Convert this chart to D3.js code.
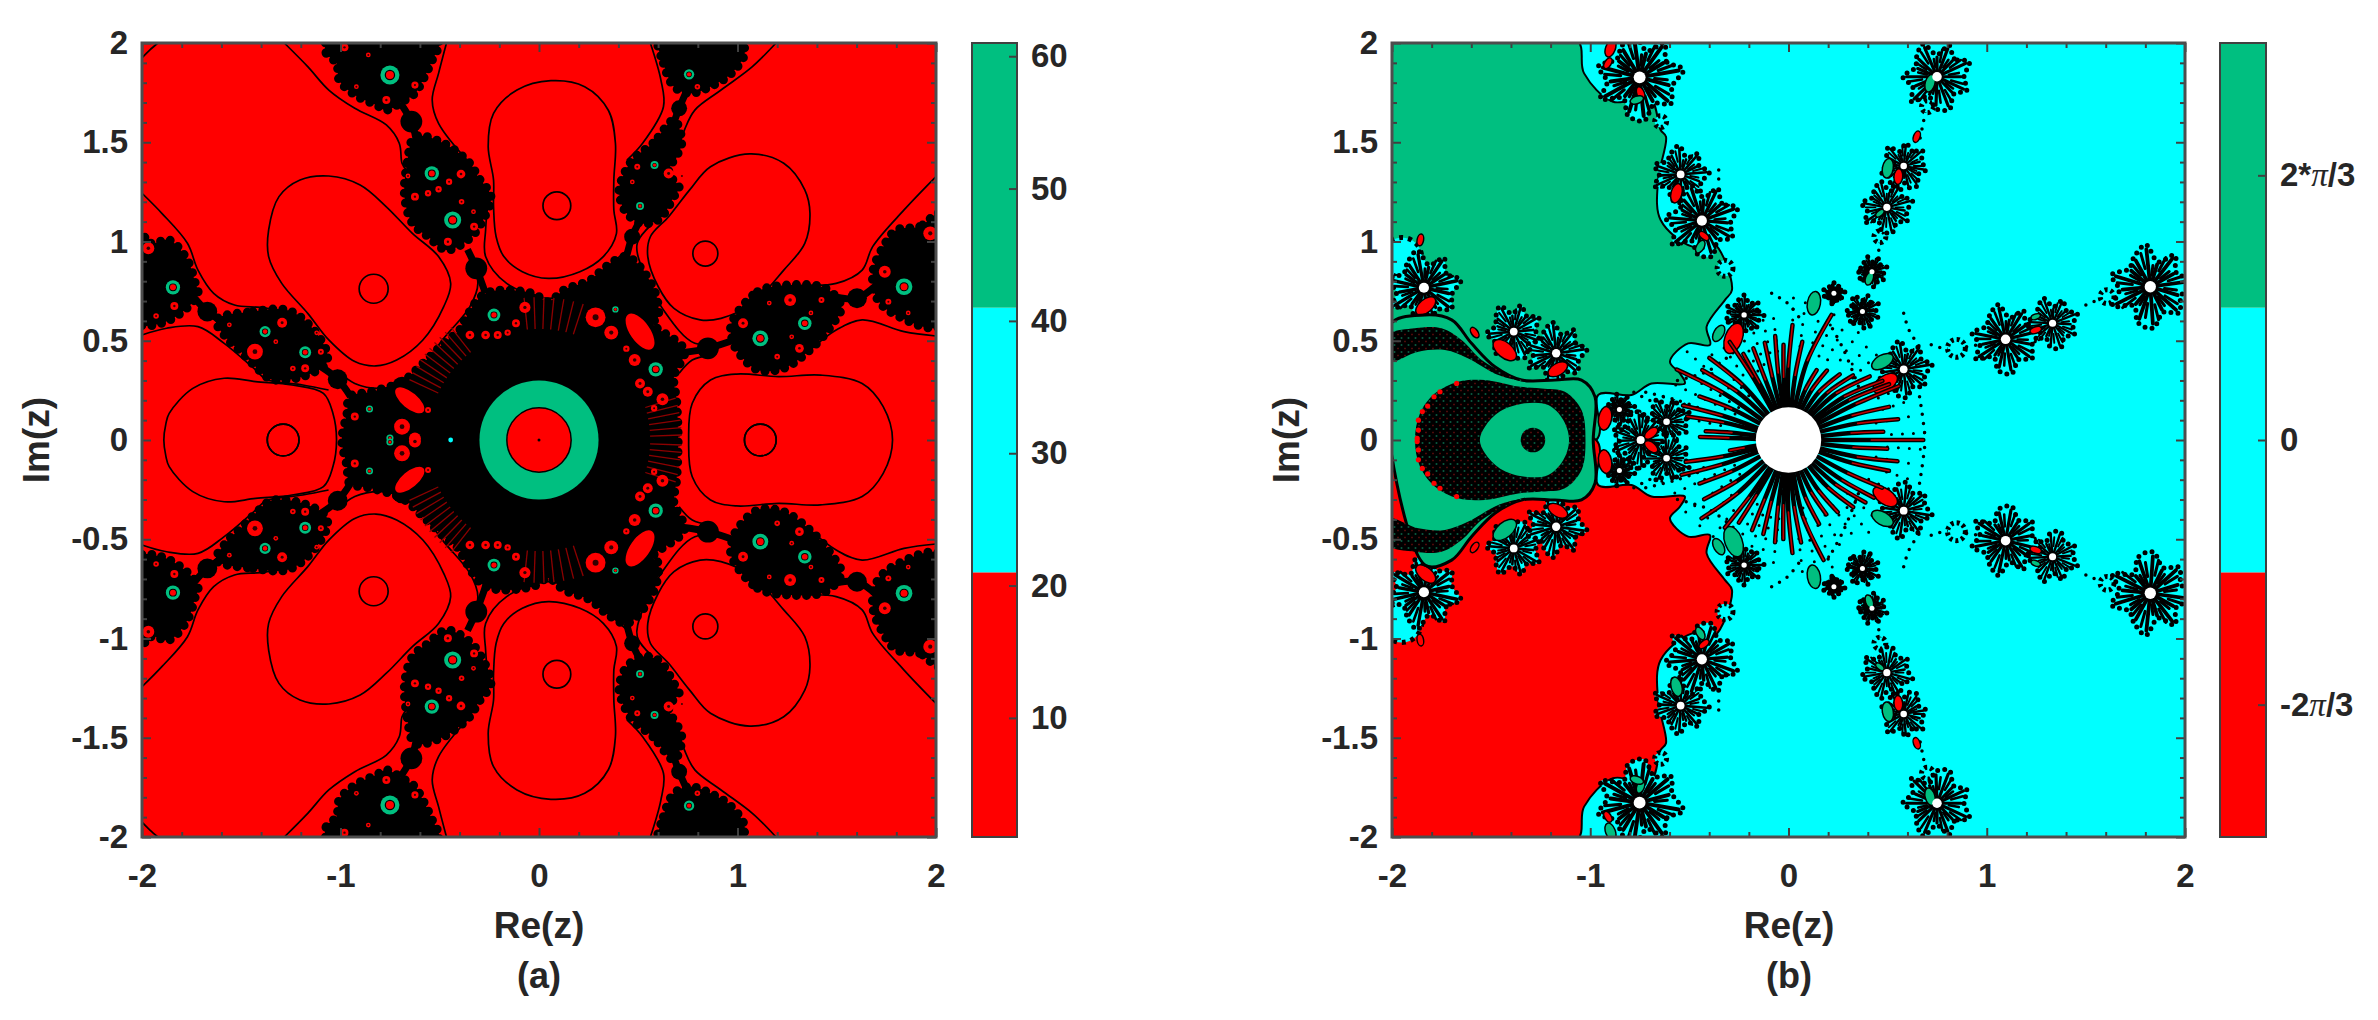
<!DOCTYPE html>
<html>
<head>
<meta charset="utf-8">
<script src="https://cdn.jsdelivr.net/npm/d3@7"></script>
<style>
html, body { margin: 0; background: #fff; }
text { font-family: "Liberation Sans", Arial, sans-serif; font-weight: bold; fill: #262626; }
</style>
</head>
<body>
<svg id="fig" width="2378" height="1020"></svg>
<script>
var RED = "#ff0000", CYAN = "#00ffff", GREEN = "#00bf80";

// axis values
var xMajor = [-2, -1, 0, 1, 2];
var xMinor = [-1.8, -1.6, -1.4, -1.2, -0.8, -0.6, -0.4, -0.2, 0.2, 0.4, 0.6, 0.8, 1.2, 1.4, 1.6, 1.8];
var yMajor = [-2, -1.5, -1, -0.5, 0, 0.5, 1, 1.5, 2];
var yMinor = [-1.9, -1.8, -1.7, -1.6, -1.4, -1.3, -1.2, -1.1, -0.9, -0.8, -0.7, -0.6, -0.4, -0.3, -0.2, -0.1,
    0.1, 0.2, 0.3, 0.4, 0.6, 0.7, 0.8, 0.9, 1.1, 1.2, 1.3, 1.4, 1.6, 1.7, 1.8, 1.9];
var iterEdges = [1, 21, 41, 61];
var iterTicks = [10, 20, 30, 40, 50, 60];
var phaseEdges = [-Math.PI, -Math.PI / 3, Math.PI / 3, Math.PI];
var phaseTicks = [-2 * Math.PI / 3, 0, 2 * Math.PI / 3];
var phaseLabels = [["-2", "\u03c0", "/3"], ["0"], ["2*", "\u03c0", "/3"]];

// panel (a): level curves, upper half plane, [Re, Im]; the lower half mirrors them
var levelCircles = [[0.09, 1.18, 0.07], [0.838, 0.939, 0.063], [-0.833, 0.762, 0.073], [-1.289, 0, 0.08], [1.115, 0, 0.08]];
var lobeTop = [[0.06,1.81],[0.23,1.78],[0.35,1.66],[0.385,1.495],[0.377,1.31],[0.377,1.159],[0.39,1.04],[0.324,0.924],[0.206,0.848],[0.047,0.814],[-0.084,0.848],[-0.177,0.924],[-0.216,1.024],[-0.229,1.176],[-0.229,1.31],[-0.256,1.478],[-0.229,1.646],[-0.111,1.763]];
var lobeUpperRight = [[1.062,1.441],[1.233,1.394],[1.339,1.26],[1.365,1.142],[1.339,0.991],[1.233,0.856],[1.075,0.688],[0.917,0.613],[0.812,0.605],[0.68,0.663],[0.601,0.772],[0.548,0.924],[0.561,1.024],[0.653,1.125],[0.759,1.26],[0.864,1.377]];
var lobeUpperLeft = [[-1.059,1.33],[-0.901,1.285],[-0.769,1.175],[-0.638,1.041],[-0.506,0.924],[-0.445,0.789],[-0.48,0.672],[-0.585,0.504],[-0.717,0.403],[-0.822,0.373],[-0.928,0.395],[-1.059,0.504],[-1.165,0.638],[-1.296,0.789],[-1.362,0.924],[-1.362,1.058],[-1.31,1.226],[-1.204,1.31]];
var lobeLeftHalf = [[-1.89,0],[-1.88,0.08],[-1.863,0.134],[-1.744,0.26],[-1.586,0.311],[-1.428,0.294],[-1.244,0.277],[-1.086,0.235],[-1.038,0.134],[-1.02,0]];
var lobeRightHalf = [[0.754,0],[0.772,0.185],[0.864,0.302],[0.996,0.332],[1.207,0.319],[1.418,0.327],[1.628,0.285],[1.734,0.168],[1.781,0]];
var outerCurves = [
    [[-2,1.925],[-1.96,1.965],[-1.92,2]],
    [[-1.283,2],[-1.165,1.881],[-1.059,1.763],[-0.928,1.671],[-0.769,1.587],[-0.704,1.495],[-0.69,1.394],[-0.669,1.36]],
    [[-2,1.243],[-1.9,1.142],[-1.771,0.991],[-1.718,0.856],[-1.639,0.739],[-1.534,0.68],[-1.402,0.668],[-1.27,0.646]],
    [[-0.361,0.957],[-0.308,0.789],[-0.348,0.672],[-0.48,0.512],[-0.585,0.369],[-0.638,0.302],[-0.796,0.26],[-0.928,0.285],[-1.02,0.353]],
    [[-0.466,2],[-0.506,1.847],[-0.538,1.713],[-0.506,1.595],[-0.348,1.394]],
    [[0.561,2],[0.614,1.814],[0.627,1.679],[0.522,1.495],[0.443,1.41]],
    [[-0.256,1.209],[-0.269,1.058],[-0.269,0.924],[-0.163,0.789],[0.047,0.714],[0.153,0.739],[0.285,0.823],[0.443,0.957]],
    [[1.194,2],[1.075,1.881],[0.917,1.763],[0.785,1.662],[0.733,1.562],[0.68,1.394]],
    [[2,1.327],[1.839,1.159],[1.681,0.974],[1.628,0.856],[1.497,0.789],[1.339,0.781]],
    [[0.574,1.091],[0.495,0.991],[0.522,0.856],[0.627,0.655],[0.785,0.487],[0.943,0.495]],
    [[2,0.524],[1.839,0.546],[1.628,0.605],[1.497,0.554],[1.365,0.453]],
    [[-2,0.529],[-1.876,0.563],[-1.718,0.571],[-1.586,0.487],[-1.428,0.353],[-1.375,0.306],[-1.19,0.277],[-1.06,0.252]],
    [[0.706,0.336],[0.772,0.403],[0.864,0.428]]
];

// panel (a): black filaments
var blobTL = [[-1.065,2.02],[-1.072,1.948],[-1.02,1.898],[-1.007,1.814],[-0.928,1.738],[-0.822,1.688],[-0.769,1.662],[-0.69,1.704],[-0.625,1.746],[-0.585,1.814],[-0.545,1.898],[-0.506,2.02]];
var blobTL2 = [[-0.625,1.528],[-0.664,1.394],[-0.677,1.226],[-0.638,1.092],[-0.559,1.024],[-0.466,0.957],[-0.348,1.016],[-0.282,1.108],[-0.242,1.226],[-0.308,1.327],[-0.348,1.394],[-0.48,1.495]];
var blobTR = [[0.606,2.02],[0.627,1.898],[0.68,1.78],[0.759,1.746],[0.864,1.78],[0.97,1.847],[1.036,1.948],[1.009,2.02]];
var blobTR2 = [[0.68,1.612],[0.574,1.495],[0.469,1.41],[0.416,1.31],[0.403,1.26],[0.43,1.159],[0.509,1.092],[0.601,1.108],[0.68,1.226],[0.706,1.276],[0.653,1.343],[0.719,1.495]];
var blobL1 = [[-2.02,1.058],[-1.955,0.991],[-1.863,1.008],[-1.771,0.907],[-1.731,0.789],[-1.718,0.739],[-1.784,0.655],[-1.902,0.588],[-2.02,0.588]];
var blobL2 = [[-1.626,0.605],[-1.441,0.647],[-1.27,0.655],[-1.165,0.588],[-1.072,0.453],[-1.072,0.386],[-1.191,0.319],[-1.349,0.306],[-1.428,0.369],[-1.494,0.437],[-1.573,0.512]];
var blobR1 = [[2.02,1.142],[1.918,1.075],[1.8,1.058],[1.734,0.974],[1.681,0.84],[1.707,0.705],[1.813,0.621],[2.02,0.574]];
var blobR2 = [[0.97,0.588],[1.101,0.747],[1.26,0.781],[1.444,0.764],[1.523,0.672],[1.47,0.571],[1.365,0.453],[1.233,0.361],[1.101,0.353],[0.996,0.453],[0.97,0.521]];
var blobCentreHalf = [[-0.993,0],[-0.967,0.134],[-0.954,0.218],[-0.848,0.243],[-0.69,0.294],[-0.585,0.386],[-0.48,0.487],[-0.4,0.554],[-0.374,0.605],[-0.269,0.739],[-0.032,0.739],[0.047,0.697],[0.126,0.756],[0.258,0.806],[0.337,0.873],[0.443,0.924],[0.574,0.772],[0.601,0.621],[0.574,0.588],[0.733,0.453],[0.68,0.319],[0.693,0.202],[0.701,0]];
var beads = [[-0.643,1.604,0.055],[-0.316,0.865,0.055],[0.706,1.671,0.04],[0.469,1.024,0.04],[-1.671,0.647,0.05],[-1.014,0.306,0.05],[-0.69,0.269,0.05],[1.602,0.714,0.05],[0.851,0.462,0.055]];
var necks = [
    [[-0.7,1.7],[-0.643,1.604],[-0.62,1.52]], [[-0.36,0.96],[-0.316,0.865],[-0.27,0.74]],
    [[0.74,1.75],[0.706,1.671],[0.68,1.6]], [[0.5,1.09],[0.469,1.024],[0.44,0.92]],
    [[-1.74,0.72],[-1.671,0.647],[-1.6,0.6]], [[-1.1,0.37],[-1.014,0.306],[-0.95,0.22]],
    [[1.7,0.78],[1.602,0.714],[1.5,0.72]], [[1.0,0.51],[0.851,0.462],[0.72,0.44]]
];
// green rings: Re, Im, outer radius
var ringSpots = [[-0.751,1.839,0.048],[0.756,1.842,0.026],[-0.54,1.343,0.036],[-0.435,1.108,0.043],[0.582,1.385,0.02],[0.509,1.179,0.02],[-1.844,0.769,0.036],[-1.38,0.546,0.028],[-1.178,0.442,0.03],[-0.227,0.63,0.032],[0.385,0.658,0.016],[0.588,0.356,0.036],[1.839,0.772,0.042],[1.339,0.588,0.034],[1.115,0.512,0.04],[-0.854,0.156,0.018],[-0.751,0.01,0.018]];
// red holes inside the filaments: Re, Im, radius
var redHoles = [[-0.348,0.529,0.022],[-0.269,0.529,0.022],[-0.208,0.529,0.02],[-0.158,0.541,0.016],[-0.116,0.588,0.02],[-0.071,0.668,0.028],[0.285,0.618,0.05],[0.364,0.541,0.035],[0.482,0.403,0.03],[0.509,0.285,0.025],[0.548,0.243,0.025],[0.622,0.205,0.03],[-0.69,0.067,0.04],[-0.625,0.008,0.03],[-0.928,0.118,0.02],[-0.559,0.151,0.015],
    [-0.625,1.226,0.02],[-0.559,1.243,0.016],[-0.506,1.263,0.016],[-0.453,1.301,0.016],[-0.393,1.34,0.022],[-0.327,1.075,0.02],[-0.459,0.999,0.02],[-0.769,1.713,0.02],[-0.625,1.788,0.018],[-0.98,1.978,0.02],
    [-1.837,0.675,0.02],[-1.929,0.625,0.014],[-1.968,0.966,0.03],[-1.431,0.445,0.04],[-1.294,0.591,0.025],[-1.326,0.495,0.012],[-1.178,0.361,0.02],[-1.099,0.445,0.015],
    [1.742,0.848,0.03],[1.76,0.697,0.015],[1.971,1.041,0.035],[1.265,0.705,0.03],[1.423,0.705,0.015],[1.028,0.588,0.025],[1.312,0.462,0.022],[1.273,0.52,0.012],[0.653,1.343,0.025],[0.495,1.377,0.015],[0.798,1.78,0.014],
    [-0.66,1.33,0.012],[-0.39,1.2,0.014],[-0.33,1.15,0.012],[-0.86,1.94,0.012],[-0.92,1.78,0.012],[0.72,1.33,0.01],[0.47,1.3,0.012],[1.86,0.64,0.012],[1.16,0.69,0.012],[1.2,0.42,0.014],[1.37,0.64,0.012],[-1.56,0.58,0.012],[-1.24,0.36,0.014],[-1.12,0.54,0.012],[0.44,0.46,0.016],[0.58,0.16,0.016]];
// long red patches in the central mass: Re, Im, half length, half width, tilt in degrees
var redLongPatches = [[0.509,0.546,0.105,0.05,-55],[-0.651,0.2,0.09,0.04,-40]];
var fanAngles = [2, 5, 8, 11, 14, 17, 72, 76, 80, 84, 88, 92, 96, 128, 131, 134, 137, 140, 143, 146, 149, 152, 155];
var mainRing = [0, 0.3, 0.162];
var cyanSpecks = [[-0.445, 0, 0.012]];

// panel (b): basin boundary, upper half plane; the lower half mirrors it in red
var basinEdge = [[-2.02,2.02],[-1.071,2.02],[-1.031,1.847],[-0.885,1.704],[-0.698,1.721],[-0.645,1.562],[-0.618,1.528],[-0.658,1.31],[-0.645,1.108],[-0.485,0.974],[-0.378,0.991],[-0.285,0.756],[-0.321,0.705],[-0.413,0.571],[-0.396,0.479],[-0.506,0.487],[-0.598,0.395],[-0.548,0.336],[-0.523,0.285],[-0.691,0.285],[-0.792,0.227],[-0.96,0.227],[-0.97,0],[-2.02,0]];
var bulbHalf = [[-2.02,0.571],[-1.834,0.63],[-1.699,0.605],[-1.599,0.487],[-1.481,0.369],[-1.346,0.302],[-1.178,0.302],[-1.044,0.302],[-0.976,0.218],[-0.985,0]];
var bulbBand = [[-2.02,0.529],[-1.885,0.563],[-1.75,0.563],[-1.649,0.504],[-1.548,0.403],[-1.431,0.336],[-1.33,0.294],[-1.464,0.327],[-1.615,0.411],[-1.733,0.453],[-1.867,0.445],[-2.02,0.395]];
var ovalHalf = [[-1.884,0],[-1.859,0.134],[-1.783,0.235],[-1.666,0.294],[-1.531,0.302],[-1.363,0.269],[-1.245,0.26],[-1.128,0.243],[-1.044,0.151],[-1.024,0]];
var ovalHoleHalf = [[-1.557,0],[-1.531,0.067],[-1.456,0.143],[-1.329,0.185],[-1.212,0.176],[-1.136,0.101],[-1.107,0]];
var ovalCore = [-1.289, 0, 0.062];
var ovalTeeth = [[-1.873,0.008],[-1.867,0.05],[-1.867,0.1],[-1.847,0.143],[-1.82,0.171],[-1.788,0.218],[-1.758,0.243],[-1.674,0.285]];
// flowers: Re, Im, radius, rotation in degrees
var flowers = [[-0.751,1.827,0.2,10],[0.749,1.83,0.16,25],[-0.544,1.338,0.13,5],[-0.437,1.105,0.17,20],[0.581,1.38,0.11,40],[0.496,1.172,0.12,15],[-1.839,0.767,0.17,12],[-1.386,0.546,0.13,30],[-1.172,0.437,0.14,8],[-0.224,0.63,0.09,0],[0.421,0.848,0.07,18],[0.229,0.739,0.05,5],[0.373,0.647,0.08,28],[0.581,0.356,0.13,10],[1.825,0.772,0.19,8],[1.332,0.588,0.12,22],[1.095,0.507,0.16,14],[-0.853,0.154,0.07,12],[-0.746,0,0.13,0],[-0.615,0.092,0.11,24]];
var sideClumps = [[-1.95,0.92,0.1]];
var petalAngles = [0, 21, 44, 65, 88, 111, 132, 155, 178, 199, 222, 243, 266, 289, 310, 335];
var petalLens = [1, 0.7, 0.95, 0.62, 1, 0.8, 0.66, 0.96, 0.74, 1, 0.6, 0.9, 0.98, 0.68, 0.92, 0.76];
var miniBlobs = [[0.701,1.679,0.03],[0.461,1.024,0.03],[0.847,0.462,0.045],[1.607,0.722,0.035],[-0.32,0.865,0.04],[-0.645,1.604,0.03]];
// patches: Re, Im, half length, kind above the axis, kind below the axis, tilt in degrees
var patches = [[-0.898,1.973,0.045,"r","g",70],[-0.911,1.898,0.03,"r","r",60],[-0.746,1.746,0.035,"r","g",110],[-0.565,1.243,0.05,"r","g",75],[-0.426,1.028,0.03,"r","r",-40],[-1.83,0.675,0.06,"r","r",40],[-1.857,1.008,0.03,"r","r",80],[-1.431,0.453,0.07,"r","g",-40],[-1.164,0.356,0.055,"r","r",30],[-1.583,0.541,0.03,"r","r",-55],[-0.925,0.109,0.06,"r","r",80],[-0.693,-0.034,0.04,"r","r",-40],[-0.277,0.512,0.08,"r","g",70],[0.488,0.285,0.07,"r","r",35],[1.247,0.554,0.03,"r","r",20],[0.647,1.528,0.03,"r","r",70],[0.554,1.327,0.04,"r","r",85],
    [0.501,1.369,0.05,"g","g",80],[-0.765,1.713,0.035,"g","g",20],[-0.352,0.537,0.045,"g","g",60],[0.474,0.395,0.06,"g","g",30],[0.128,0.689,0.06,"g","g",80],[1.247,0.621,0.025,"g","g",20],[0.408,0.814,0.035,"g","g",70],[-0.445,0.974,0.035,"g","g",60],[0.714,1.797,0.045,"g","g",75],[0.461,1.142,0.025,"g","g",40]];
// stripes round the white disc: angle in degrees, outer radius, bend of the tip in degrees
var stripes = [[0,0.68,0],[7,0.48,-2],[14.7,0.563,-4],[22.2,0.534,-4],[29,0.62,-3],[35,0.58,-6],[40.2,0.56,-8],[47,0.52,-9],[53,0.46,-8],[60,0.42,-8],[67,0.4,-6],[73,0.38,-5],[79,0.667,-8],[85,0.5,-3],[91,0.58,-3],[95,0.48,-2],[99.3,0.528,-2],[104.7,0.504,-1],[111,0.495,0],[116.7,0.49,1],[119,0.576,2],[128,0.575,6],[135,0.56,6],[142.8,0.666,5],[150,0.5,4],[158.9,0.56,3],[164,0.525,3],[172,0.42,2],[178,0.447,0],
    [-7,0.5,2],[-15,0.56,4],[-21,0.53,4],[-30,0.53,3],[-38,0.52,4],[-45,0.5,6],[-52,0.47,6],[-60.7,0.44,5],[-68,0.42,5],[-75,0.45,5],[-81.7,0.63,8],[-86,0.52,3],[-91,0.57,3],[-95,0.5,2],[-99.5,0.52,2],[-106,0.49,1],[-112,0.49,0],[-120,0.486,-1],[-124,0.546,-2],[-132,0.59,-6],[-140,0.52,-5],[-150,0.5,-4],[-159,0.568,-3],[-165,0.53,-3],[-170,0.3,0]];
var whiteDisc = [0, 0, 0.165];
// dotted rays between the stripes: angle, inner radius, outer radius
var dottedRays = [[3,0.52,0.7],[11,0.45,0.66],[18,0.5,0.66],[25,0.5,0.7],[32,0.55,0.72],[44,0.45,0.62],[50,0.5,0.65],[57,0.48,0.68],[64,0.45,0.66],[70,0.45,0.7],[76,0.45,0.62],[83,0.42,0.7],[88,0.55,0.72],[97,0.45,0.62],[102,0.45,0.66],[108,0.4,0.62],[114,0.38,0.6],[125,0.4,0.66],[132,0.3,0.6],[139,0.4,0.72],[147,0.3,0.62],[154,0.3,0.66],[161,0.5,0.72],[168,0.35,0.62],[-4,0.5,0.68],[-11,0.45,0.65],[-18,0.52,0.66],[-26,0.45,0.68],[-34,0.5,0.7],[-42,0.4,0.62],[-49,0.45,0.62],[-56,0.4,0.6],[-64,0.42,0.64],[-71,0.4,0.68],[-78,0.35,0.7],[-84,0.5,0.72],[-97,0.4,0.66],[-103,0.4,0.62],[-109,0.4,0.6],[-116,0.36,0.62],[-128,0.45,0.66],[-136,0.4,0.66],[-145,0.3,0.66],[-155,0.3,0.68],[-162,0.45,0.72]];
var dottedTrails = [
    [[-0.085,0.739],[-0.005,0.689],[0.075,0.588]], [[0.581,0.638],[0.608,0.554],[0.661,0.47]],
    [[0.661,0.218],[0.674,0.134],[0.687,0.034]], [[-0.352,1.36],[-0.352,1.31]],
    [[-0.56,0.3],[-0.4,0.35],[-0.28,0.44]], [[0.2,0.6],[0.28,0.45],[0.36,0.25]],
    [[-0.78,0.24],[-0.66,0.18],[-0.5,0.12]], [[-0.72,-0.24],[-0.56,-0.2],[-0.4,-0.14]],
    [[0.72,0.48],[0.8,0.46],[0.96,0.48]], [[1.5,0.68],[1.6,0.72],[1.72,0.74]],
    [[0.46,1.09],[0.46,0.98],[0.44,0.9]], [[0.7,1.7],[0.68,1.6],[0.66,1.5]]
];

var svg = d3.select("#fig");
var defs = svg.append("defs");
defs.append("filter").attr("id", "soft").append("feGaussianBlur").attr("stdDeviation", 0.55);
var stipple = defs.append("pattern").attr("id", "stipple").attr("width", 7).attr("height", 7)
    .attr("patternUnits", "userSpaceOnUse");
stipple.append("rect").attr("width", 7).attr("height", 7).attr("fill", "#000");
stipple.append("circle").attr("cx", 1.5).attr("cy", 2).attr("r", 1).attr("fill", "#0a5a3e");
stipple.append("circle").attr("cx", 5).attr("cy", 5.5).attr("r", 0.9).attr("fill", "#5a0a10");

var plotTop = 43, plotBottom = 837;
var y = d3.scaleLinear().domain([-2, 2]).range([plotBottom, plotTop]);

function mirror(pts) { return pts.map(function(p) { return [p[0], -p[1]]; }); }
function wholeShape(half) { return half.concat(mirror(half).reverse().slice(1, -1)); }

// plot area, returns the clipped group and the x scale
function makePlot(id, left, right) {
    var x = d3.scaleLinear().domain([-2, 2]).range([left, right]);
    defs.append("clipPath").attr("id", id).append("rect")
        .attr("x", left).attr("y", plotTop).attr("width", right - left).attr("height", plotBottom - plotTop);
    var g = svg.append("g").attr("clip-path", "url(#" + id + ")")
        .append("g").attr("filter", "url(#soft)");
    return {g: g, x: x, left: left, right: right};
}

function closed(x) {
    return d3.line().x(function(d) { return x(d[0]); }).y(function(d) { return y(d[1]); }).curve(d3.curveCatmullRomClosed);
}
function open(x) {
    return d3.line().x(function(d) { return x(d[0]); }).y(function(d) { return y(d[1]); }).curve(d3.curveCatmullRom);
}
function rad(x, r) { return x(r) - x(0); }

// frame, ticks and labels of one plot
function drawAxes(p, xLabel, tag, centre, yLabelX) {
    var x = p.x;
    function fmt(d) { return String(d); }
    [[d3.axisBottom(x), plotBottom, xMajor, xMinor, 26.5], [d3.axisTop(x), plotTop, xMajor, xMinor, 0]].forEach(function(a, i) {
        var major = svg.append("g").attr("transform", "translate(0," + a[1] + ")")
            .call(a[0].tickValues(a[2]).tickSize(-9).tickPadding(a[4]).tickFormat(i ? "" : fmt));
        var minor = svg.append("g").attr("transform", "translate(0," + a[1] + ")")
            .call(a[0].tickValues(a[3]).tickSize(-5).tickFormat(""));
        major.selectAll(".domain").remove();
        minor.selectAll(".domain").remove();
        major.attr("font-size", 33).attr("font-family", null);
        major.selectAll("line").attr("stroke", "#404040").attr("stroke-width", 2);
        minor.selectAll("line").attr("stroke", "#404040").attr("stroke-width", 2);
    });
    [[d3.axisLeft(y), p.left], [d3.axisRight(y), p.right]].forEach(function(a, i) {
        var major = svg.append("g").attr("transform", "translate(" + a[1] + ",0)")
            .call(a[0].tickValues(yMajor).tickSize(-9).tickPadding(14).tickFormat(i ? "" : fmt));
        var minor = svg.append("g").attr("transform", "translate(" + a[1] + ",0)")
            .call(a[0].tickValues(yMinor).tickSize(-5).tickFormat(""));
        major.selectAll(".domain").remove();
        minor.selectAll(".domain").remove();
        major.attr("font-size", 33).attr("font-family", null);
        major.selectAll("line").attr("stroke", "#404040").attr("stroke-width", 2);
        minor.selectAll("line").attr("stroke", "#404040").attr("stroke-width", 2);
    });
    svg.append("rect").attr("x", p.left).attr("y", plotTop)
        .attr("width", p.right - p.left).attr("height", plotBottom - plotTop)
        .attr("fill", "none").attr("stroke", "#4d4d4d").attr("stroke-width", 3);
    svg.append("text").attr("x", centre).attr("y", 938).attr("text-anchor", "middle").attr("font-size", 37).text(xLabel);
    svg.append("text").attr("x", centre).attr("y", 988).attr("text-anchor", "middle").attr("font-size", 36).text(tag);
    svg.append("text").attr("transform", "translate(" + yLabelX + ",440) rotate(-90)")
        .attr("text-anchor", "middle").attr("font-size", 37).text("Im(z)");
}

// colour bar with one band per pair of edges
function drawBar(left, right, edges, ticks) {
    var c = d3.scaleLinear().domain([edges[0], edges[3]]).range([plotBottom, plotTop]);
    var colours = [RED, CYAN, GREEN];
    svg.selectAll(null).data(colours).enter().append("rect")
        .attr("x", left).attr("width", right - left)
        .attr("y", function(d, i) { return c(edges[i + 1]); })
        .attr("height", function(d, i) { return c(edges[i]) - c(edges[i + 1]); })
        .attr("fill", function(d) { return d; });
    svg.append("rect").attr("x", left).attr("y", plotTop).attr("width", right - left)
        .attr("height", plotBottom - plotTop).attr("fill", "none").attr("stroke", "#404040").attr("stroke-width", 2);
    var ax = svg.append("g").attr("transform", "translate(" + right + ",0)")
        .call(d3.axisRight(c).tickValues(ticks).tickSize(-8).tickPadding(14).tickFormat(function(d) { return String(d); }));
    ax.select(".domain").remove();
    ax.attr("font-size", 33).attr("font-family", null);
    ax.selectAll("line").attr("stroke", "#404040").attr("stroke-width", 2);
    return ax;
}

// ---------- panel (a) ----------
var pa = makePlot("clipA", 142, 936);
var xa = pa.x, ga = pa.g;
ga.append("rect").attr("x", 142).attr("y", plotTop).attr("width", 794).attr("height", 794).attr("fill", RED);

var contourGroup = ga.append("g").attr("fill", "none").attr("stroke", "#000").attr("stroke-width", 1.7);
[lobeTop, lobeUpperRight, lobeUpperLeft].forEach(function(s) {
    [s, mirror(s)].forEach(function(pts) { contourGroup.append("path").attr("d", closed(xa)(pts)); });
});
[lobeLeftHalf, lobeRightHalf].forEach(function(s) {
    contourGroup.append("path").attr("d", closed(xa)(wholeShape(s)));
});
outerCurves.forEach(function(s) {
    [s, mirror(s)].forEach(function(pts) { contourGroup.append("path").attr("d", open(xa)(pts)); });
});
contourGroup.selectAll("circle.level").data(levelCircles.concat(levelCircles.map(function(c) { return [c[0], -c[1], c[2]]; })))
    .enter().append("circle").attr("class", "level")
    .attr("cx", function(d) { return xa(d[0]); }).attr("cy", function(d) { return y(d[1]); })
    .attr("r", function(d) { return rad(xa, d[2]); });

var filaments = ga.append("g").attr("fill", "#000");
var bumpy = function(sel) {
    sel.attr("stroke", "#000").attr("stroke-width", 9).attr("stroke-linecap", "round").attr("stroke-dasharray", "0 10");
};
[blobTL, blobTL2, blobTR, blobTR2, blobL1, blobL2, blobR1, blobR2].forEach(function(s) {
    [s, mirror(s)].forEach(function(pts) { filaments.append("path").attr("d", closed(xa)(pts)).call(bumpy); });
});
filaments.append("path").attr("d", closed(xa)(wholeShape(blobCentreHalf))).call(bumpy);
necks.forEach(function(s) {
    [s, mirror(s)].forEach(function(pts) {
        filaments.append("path").attr("d", open(xa)(pts)).attr("fill", "none")
            .attr("stroke", "#000").attr("stroke-width", 7);
    });
});
beads.concat(beads.map(function(b) { return [b[0], -b[1], b[2]]; })).forEach(function(b) {
    filaments.append("circle").attr("cx", xa(b[0])).attr("cy", y(b[1])).attr("r", rad(xa, b[2]));
});

// radial fans inside the central black mass
[1, -1].forEach(function(sign) {
    ga.append("g").selectAll("line").data(fanAngles).enter().append("line")
        .attr("stroke", "#8c0000").attr("stroke-width", 1.3)
        .attr("x1", function(d) { return xa(0.56 * Math.cos(d * Math.PI / 180)); })
        .attr("y1", function(d) { return y(sign * 0.56 * Math.sin(d * Math.PI / 180)); })
        .attr("x2", function(d) { return xa(0.72 * Math.cos(d * Math.PI / 180)); })
        .attr("y2", function(d) { return y(sign * 0.72 * Math.sin(d * Math.PI / 180)); });
});

[1, -1].forEach(function(sign) {
    redLongPatches.forEach(function(h) {
        ga.append("ellipse").attr("rx", rad(xa, h[2])).attr("ry", rad(xa, h[3])).attr("fill", RED)
            .attr("transform", "translate(" + xa(h[0]) + "," + y(sign * h[1]) + ") rotate(" + (-sign * h[4]) + ")");
    });
    redHoles.forEach(function(h) {
        var cx = xa(h[0]), cy = y(sign * h[1]), r = rad(xa, h[2]);
        ga.append("circle").attr("cx", cx).attr("cy", cy).attr("r", r).attr("fill", RED);
        ga.append("circle").attr("cx", cx).attr("cy", cy).attr("r", Math.max(1, r * 0.3)).attr("fill", "#300");
    });
    ringSpots.forEach(function(h) {
        var cx = xa(h[0]), cy = y(sign * h[1]), r = rad(xa, h[2]);
        ga.append("circle").attr("cx", cx).attr("cy", cy).attr("r", r).attr("fill", GREEN);
        ga.append("circle").attr("cx", cx).attr("cy", cy).attr("r", r * 0.55).attr("fill", "#000");
        ga.append("circle").attr("cx", cx).attr("cy", cy).attr("r", r * 0.42).attr("fill", RED);
    });
});

ga.append("circle").attr("cx", xa(0)).attr("cy", y(0)).attr("r", rad(xa, mainRing[1])).attr("fill", GREEN);
ga.append("circle").attr("cx", xa(0)).attr("cy", y(0)).attr("r", rad(xa, mainRing[2])).attr("fill", RED)
    .attr("stroke", "#000").attr("stroke-width", 1.5);
ga.append("circle").attr("cx", xa(0)).attr("cy", y(0)).attr("r", 1.5).attr("fill", "#000");
cyanSpecks.forEach(function(s) {
    ga.append("circle").attr("cx", xa(s[0])).attr("cy", y(s[1])).attr("r", rad(xa, s[2])).attr("fill", CYAN);
});

drawAxes(pa, "Re(z)", "(a)", 539, 49);
drawBar(972, 1017, iterEdges, iterTicks);

// ---------- panel (b) ----------
var pb = makePlot("clipB", 1392, 2185);
var xb = pb.x, gb = pb.g;
gb.append("rect").attr("x", 1392).attr("y", plotTop).attr("width", 793).attr("height", 794).attr("fill", CYAN);

var edgeLine = d3.line().x(function(d) { return xb(d[0]); }).y(function(d) { return y(d[1]); }).curve(d3.curveCatmullRom);
gb.append("path").attr("d", edgeLine(basinEdge)).attr("fill", GREEN).attr("stroke", "#000").attr("stroke-width", 2);
gb.append("path").attr("d", edgeLine(mirror(basinEdge))).attr("fill", RED).attr("stroke", "#000").attr("stroke-width", 2);

function rayPoint(ang, r) {
    var a = ang * Math.PI / 180;
    return [r * Math.cos(a), r * Math.sin(a)];
}

// dotted trails and small clusters between the flowers
dottedTrails.forEach(function(s) {
    [s, mirror(s)].forEach(function(pts) {
        gb.append("path").attr("d", open(xb)(pts)).attr("fill", "none").attr("stroke", "#000")
            .attr("stroke-width", 3.5).attr("stroke-linecap", "round").attr("stroke-dasharray", "0 9");
    });
});
dottedRays.forEach(function(s) {
    gb.append("path").attr("d", open(xb)([rayPoint(s[0], s[1]), rayPoint(s[0], s[2])])).attr("fill", "none").attr("stroke", "#000")
        .attr("stroke-width", 3).attr("stroke-linecap", "round").attr("stroke-dasharray", "0 11");
});
[1, -1].forEach(function(sign) {
    miniBlobs.forEach(function(m) {
        gb.append("circle").attr("cx", xb(m[0])).attr("cy", y(sign * m[1])).attr("r", rad(xb, m[2]))
            .attr("fill", CYAN).attr("stroke", "#000").attr("stroke-width", 5).attr("stroke-dasharray", "3 3");
    });
    sideClumps.forEach(function(m) {
        gb.append("circle").attr("cx", xb(m[0])).attr("cy", y(sign * m[1])).attr("r", rad(xb, m[2]))
            .attr("fill", CYAN).attr("stroke", "#000").attr("stroke-width", 5).attr("stroke-dasharray", "4 5");
    });
});

// cyan body with a bumpy rim, long black rays from the eye, short rays near the rim
function drawFlower(f, sign) {
    var cx = xb(f[0]), cy = y(sign * f[1]), r = rad(xb, f[2]);
    var g = gb.append("g");
    function tip(i, scale, shift) {
        var a = (f[3] + petalAngles[i] + shift) * Math.PI / 180;
        return [cx + Math.cos(a) * r * petalLens[i] * scale, cy - sign * Math.sin(a) * r * petalLens[i] * scale];
    }
    var rim = petalAngles.map(function(a, i) { return tip(i, 1.12, 0); });
    g.append("path").attr("d", d3.line().curve(d3.curveCatmullRomClosed)(rim))
        .attr("fill", CYAN).attr("stroke", "#000").attr("stroke-width", 5)
        .attr("stroke-linecap", "round").attr("stroke-dasharray", "0 7");
    var w = Math.max(2.4, r * 0.1);
    petalAngles.forEach(function(a, i) {
        var t = tip(i, 1, 0);
        g.append("line").attr("x1", cx).attr("y1", cy).attr("x2", t[0]).attr("y2", t[1])
            .attr("stroke", "#000").attr("stroke-width", w).attr("stroke-linecap", "round");
        var s0 = tip(i, 0.5, 10), s1 = tip(i, 0.92, 10);
        g.append("line").attr("x1", s0[0]).attr("y1", s0[1]).attr("x2", s1[0]).attr("y2", s1[1])
            .attr("stroke", "#000").attr("stroke-width", w * 0.8).attr("stroke-linecap", "round");
    });
}
[1, -1].forEach(function(sign) {
    flowers.forEach(function(f) { drawFlower(f, sign); });
});
// patches sit on top of the rays, white eyes last
patches.forEach(function(p) {
    [[1, p[3]], [-1, p[4]]].forEach(function(s) {
        gb.append("ellipse").attr("rx", rad(xb, p[2])).attr("ry", rad(xb, p[2]) * 0.55)
            .attr("transform", "translate(" + xb(p[0]) + "," + y(s[0] * p[1]) + ") rotate(" + (-s[0] * p[5]) + ")")
            .attr("fill", s[1] === "r" ? RED : GREEN).attr("stroke", "#000").attr("stroke-width", 1.5);
    });
});

// left bulb
gb.append("path").attr("d", closed(xb)(wholeShape(bulbHalf))).attr("fill", GREEN).attr("stroke", "#000").attr("stroke-width", 3);
[bulbBand, mirror(bulbBand)].forEach(function(pts) {
    gb.append("path").attr("d", closed(xb)(pts)).attr("fill", "url(#stipple)");
});
gb.append("path").attr("d", closed(xb)(wholeShape(ovalHalf))).attr("fill", "url(#stipple)");
gb.append("path").attr("d", closed(xb)(wholeShape(ovalHoleHalf))).attr("fill", GREEN);
gb.append("circle").attr("cx", xb(ovalCore[0])).attr("cy", y(ovalCore[1])).attr("r", rad(xb, ovalCore[2])).attr("fill", "url(#stipple)");
ovalTeeth.concat(mirror(ovalTeeth)).forEach(function(t) {
    gb.append("circle").attr("cx", xb(t[0])).attr("cy", y(t[1])).attr("r", 2.6).attr("fill", RED);
});

// stripes round the disc
stripes.forEach(function(s) {
    var r0 = whiteDisc[2] - 0.01;
    var pts = [rayPoint(s[0], r0), rayPoint(s[0] + s[2] * 0.3, (r0 + s[1]) / 2), rayPoint(s[0] + s[2], s[1])];
    var outer = [pts[1], rayPoint(s[0] + s[2] * 0.7, (r0 + 3 * s[1]) / 4), pts[2]];
    gb.append("path").attr("d", open(xb)(pts)).attr("fill", "none").attr("stroke", "#000")
        .attr("stroke-width", 4.5).attr("stroke-linecap", "round");
    gb.append("path").attr("d", open(xb)(outer)).attr("fill", "none").attr("stroke", "#c00000")
        .attr("stroke-width", 1.6).attr("stroke-linecap", "round");
});
gb.append("circle").attr("cx", xb(whiteDisc[0])).attr("cy", y(whiteDisc[1])).attr("r", rad(xb, whiteDisc[2])).attr("fill", "#fff");

[1, -1].forEach(function(sign) {
    flowers.forEach(function(f) {
        gb.append("circle").attr("cx", xb(f[0])).attr("cy", y(sign * f[1]))
            .attr("r", Math.max(2.5, rad(xb, f[2]) * 0.15)).attr("fill", "#fff");
    });
});

drawAxes(pb, "Re(z)", "(b)", 1789, 1299);
var phaseAxis = drawBar(2220, 2266, phaseEdges, phaseTicks);
phaseAxis.selectAll("text").each(function(d, i) {
    var t = d3.select(this).text(null);
    phaseLabels[i].forEach(function(part) {
        var span = t.append("tspan").text(part);
        if (part === "\u03c0") {
            span.style("font-family", "'Liberation Serif', serif").style("font-style", "italic").style("font-weight", "normal");
        }
    });
});
</script>
</body>
</html>
